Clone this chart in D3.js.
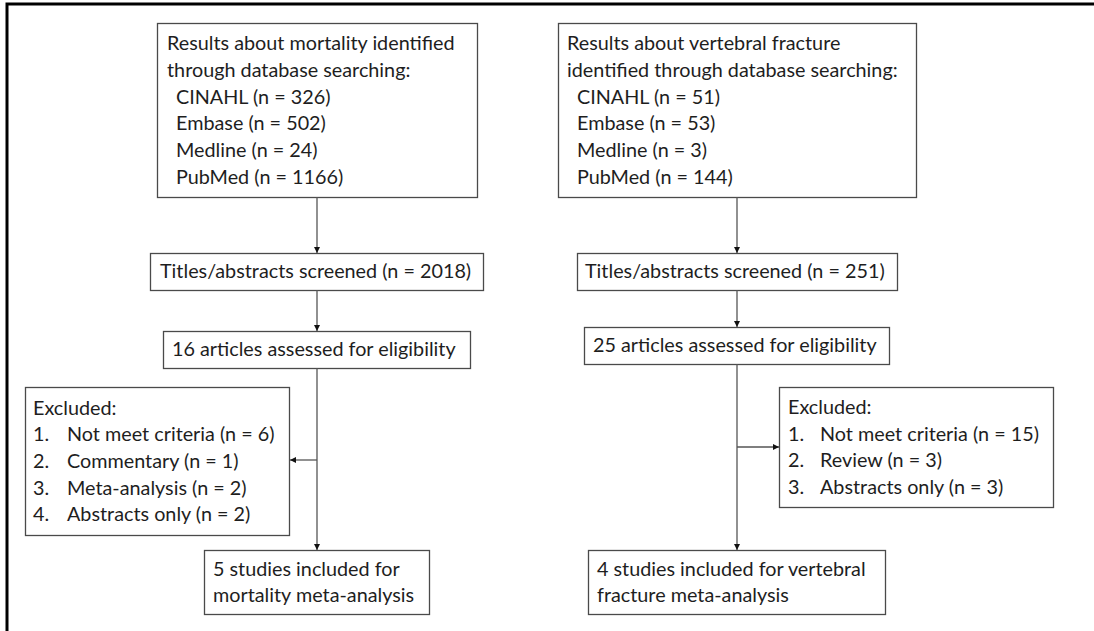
<!DOCTYPE html>
<html>
<head>
<meta charset="utf-8">
<script src="https://cdn.jsdelivr.net/npm/d3@7"></script>
<style>
  body { margin: 0; background: #fff; }
  svg { display: block; }
  text { font-family: Lato, "Open Sans", sans-serif; fill: #1e1e1e; }
</style>
</head>
<body>
<svg id="chart"></svg>
<script>
// texto de cada caja
const mortalitySearch = ["Results about mortality identified", "through database searching:"];
const mortalitySources = ["CINAHL (n = 326)", "Embase (n = 502)", "Medline (n = 24)", "PubMed (n = 1166)"];
const fractureSearch = ["Results about vertebral fracture", "identified through database searching:"];
const fractureSources = ["CINAHL (n = 51)", "Embase (n = 53)", "Medline (n = 3)", "PubMed (n = 144)"];
const screened = ["Titles/abstracts screened (n = 2018)", "Titles/abstracts screened (n = 251)"];
const assessed = ["16 articles assessed for eligibility", "25 articles assessed for eligibility"];
const mortalityExcluded = ["Not meet criteria (n = 6)", "Commentary (n = 1)", "Meta-analysis (n = 2)", "Abstracts only (n = 2)"];
const fractureExcluded = ["Not meet criteria (n = 15)", "Review (n = 3)", "Abstracts only (n = 3)"];
const mortalityIncluded = ["5 studies included for", "mortality meta-analysis"];
const fractureIncluded = ["4 studies included for vertebral", "fracture meta-analysis"];

const width = 1094, height = 631;
const lineH = 26.7;
const fontSize = 19.8;

const svg = d3.select("#chart").attr("width", width).attr("height", height);

svg.append("defs").append("marker")
  .attr("id", "head")
  .attr("viewBox", "0 0 10 10")
  .attr("refX", 10).attr("refY", 5)
  .attr("markerWidth", 6).attr("markerHeight", 6)
  .attr("markerUnits", "userSpaceOnUse")
  .attr("orient", "auto")
  .append("path").attr("d", "M0,0L10,5L0,10Z").attr("fill", "#111");

// marco exterior
svg.append("path")
  .attr("d", `M7,${height}V4H${width}`)
  .attr("fill", "none").attr("stroke", "#000").attr("stroke-width", 3);

// cajas: x, y, w, h, lineas {text, dx}
const boxes = [
  { x: 157, y: 23, w: 320, h: 174, tx: 167,
    lines: mortalitySearch.map(t => ({ t })).concat(mortalitySources.map(t => ({ t, dx: 9 }))) },
  { x: 558, y: 23, w: 358, h: 174, tx: 567,
    lines: fractureSearch.map(t => ({ t })).concat(fractureSources.map(t => ({ t, dx: 10 }))) },
  { x: 150, y: 253, w: 333, h: 37, tx: 160, lines: [{ t: screened[0] }] },
  { x: 577, y: 253, w: 320, h: 37, tx: 585, lines: [{ t: screened[1] }] },
  { x: 163, y: 331, w: 307, h: 37, tx: 172, lines: [{ t: assessed[0] }] },
  { x: 584, y: 327, w: 305, h: 37, tx: 593, lines: [{ t: assessed[1] }] },
  { x: 25, y: 387, w: 264, h: 148, tx: 33,
    lines: [{ t: "Excluded:" }].concat(mortalityExcluded.map((t, i) => ({ t, num: (i + 1) + ".", dx: 34 }))) },
  { x: 779, y: 387, w: 274, h: 120, tx: 788,
    lines: [{ t: "Excluded:" }].concat(fractureExcluded.map((t, i) => ({ t, num: (i + 1) + ".", dx: 32 }))) },
  { x: 204, y: 550, w: 225, h: 64, tx: 213, lines: mortalityIncluded.map(t => ({ t })) },
  { x: 588, y: 550, w: 297, h: 64, tx: 597, lines: fractureIncluded.map(t => ({ t })) }
];

const g = svg.selectAll("g.box").data(boxes).enter().append("g").attr("class", "box");

g.append("rect")
  .attr("x", d => d.x + 0.5).attr("y", d => d.y + 0.5)
  .attr("width", d => d.w).attr("height", d => d.h)
  .attr("fill", "#fff").attr("stroke", "#4a4a4a").attr("stroke-width", 1.3);

g.each(function(d) {
  const sel = d3.select(this);
  const n = d.lines.length;
  const y0 = d.y + d.h / 2 - (n - 1) * lineH / 2;
  d.lines.forEach((l, i) => {
    const y = y0 + i * lineH;
    if (l.num) {
      sel.append("text").attr("x", d.tx).attr("y", y).attr("dy", "0.35em")
        .attr("font-size", fontSize).text(l.num);
    }
    sel.append("text").attr("x", d.tx + (l.dx || 0)).attr("y", y).attr("dy", "0.35em")
      .attr("font-size", fontSize).text(l.t);
  });
});

// conectores
const links = [
  [[317, 197], [317, 253]],
  [[317, 290], [317, 331]],
  [[317, 368], [317, 550]],
  [[317, 460], [290, 460]],
  [[737, 197], [737, 253]],
  [[737, 290], [737, 327]],
  [[737, 364], [737, 550]],
  [[737, 447], [779, 447]]
];

svg.selectAll("path.link").data(links).enter().append("path")
  .attr("class", "link")
  .attr("d", d3.line())
  .attr("fill", "none").attr("stroke", "#555").attr("stroke-width", 1.3)
  .attr("marker-end", "url(#head)");
</script>
</body>
</html>
